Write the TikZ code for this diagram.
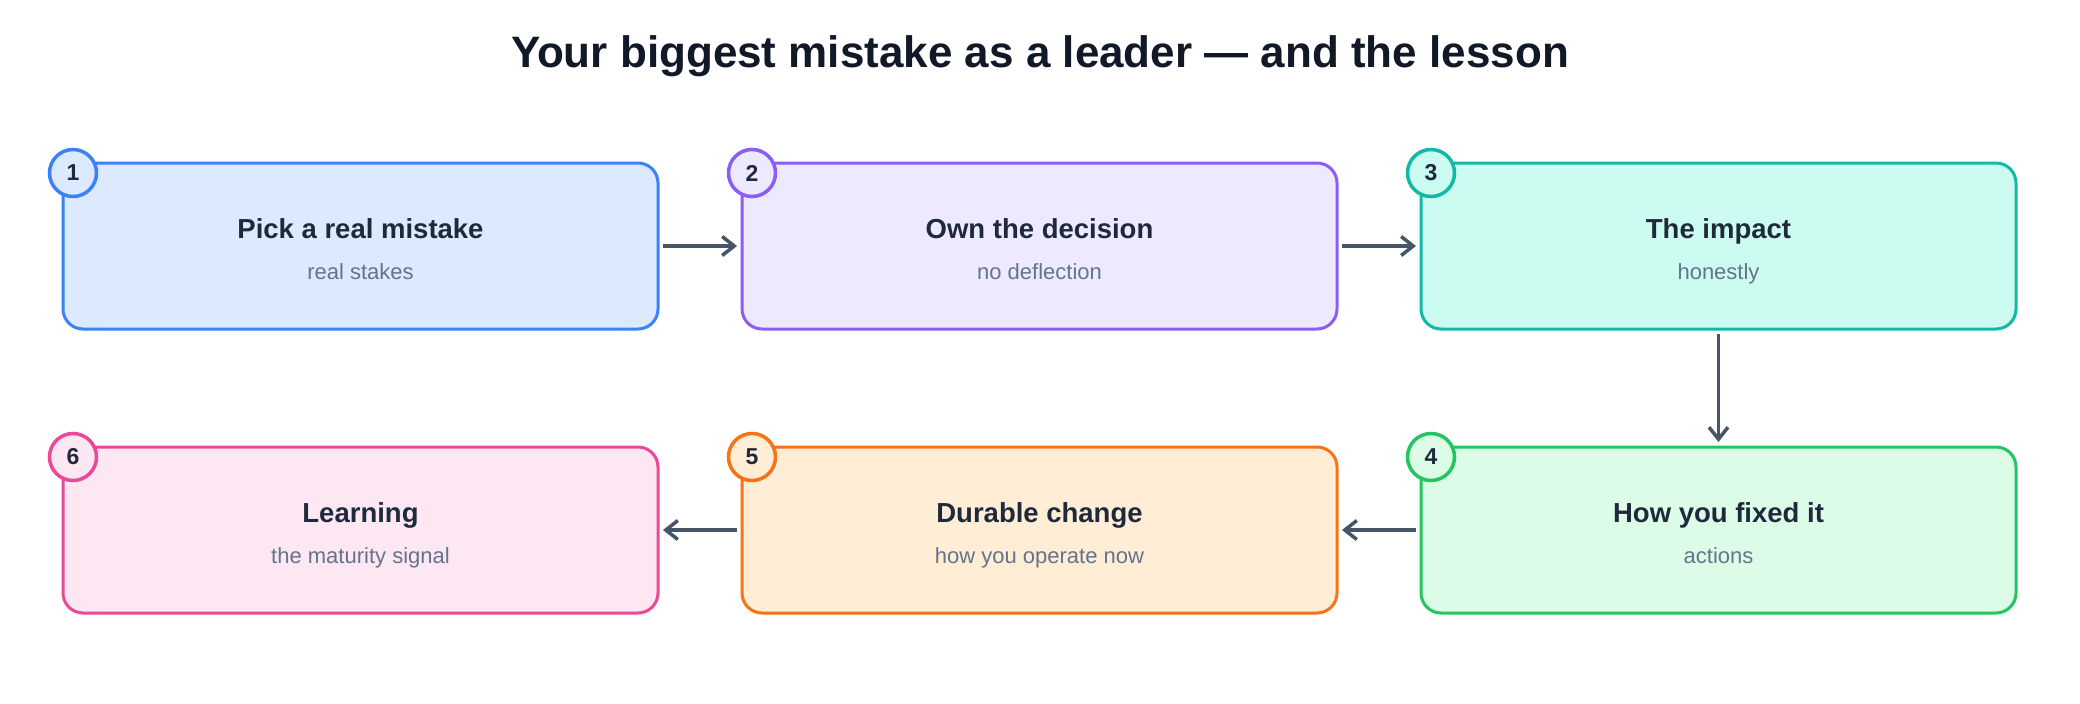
\documentclass[tikz,border=0pt]{standalone}
\usepackage{fontspec}
\setmainfont{Liberation Sans}
\usepackage{tikz}
\usetikzlibrary{positioning, arrows.meta}
\usepackage{xcolor}
\definecolor{ink}{HTML}{111827}
\definecolor{head}{HTML}{1E293B}
\definecolor{muted}{HTML}{64748B}
\definecolor{arrowc}{HTML}{475569}
\definecolor{blueline}{HTML}{3B82F6}   \definecolor{bluefill}{HTML}{DBEAFE}
\definecolor{purpleline}{HTML}{8B5CF6} \definecolor{purplefill}{HTML}{EDE9FE}
\definecolor{tealline}{HTML}{14B8A6}   \definecolor{tealfill}{HTML}{CCFBF1}
\definecolor{greenline}{HTML}{22C55E}  \definecolor{greenfill}{HTML}{DCFCE7}
\definecolor{orangeline}{HTML}{F97316} \definecolor{orangefill}{HTML}{FFEDD5}
\definecolor{pinkline}{HTML}{EC4899}   \definecolor{pinkfill}{HTML}{FCE7F3}
\newcommand{\steptitle}[1]{\rule{0pt}{31pt}{\fontsize{27.5}{41}\selectfont\bfseries\color{head}#1}}
\newcommand{\stepsub}[1]{#1\rule[-6pt]{0pt}{6pt}}
\tikzset{
  stepbox/.style={rectangle, rounded corners=20pt, line width=3pt, outer sep=0pt,
                  minimum width=595pt, minimum height=166pt, align=center,
                  text=muted, font=\fontsize{22}{41}\selectfont},
  numdot/.style={circle, line width=3.5pt, minimum size=47pt, inner sep=0pt,
                 text=head, font=\fontsize{23}{26}\selectfont\bfseries},
  flow/.style={-{Straight Barb[length=12pt, width=19pt]}, line width=3.5pt, color=arrowc,
               shorten <=5pt, shorten >=5pt},
}

\begin{document}
\begin{tikzpicture}[x=1pt, y=-1pt, node distance=84pt]
  \fill[white] (0,0) rectangle (2080,704);
  \useasboundingbox (0,0) rectangle (2080,704);

  \node[font=\fontsize{44}{52}\selectfont\bfseries, text=ink] (title) at (1040,56)
    {Your biggest mistake as a leader — and the lesson};

  % top row
  \node[stepbox, draw=blueline, fill=bluefill] (s1) at (360.5,246)
    {\steptitle{Pick a real mistake}\\\stepsub{real stakes}};
  \node[stepbox, draw=purpleline, fill=purplefill, right=of s1] (s2)
    {\steptitle{Own the decision}\\\stepsub{no deflection}};
  \node[stepbox, draw=tealline, fill=tealfill, right=of s2] (s3)
    {\steptitle{The impact}\\\stepsub{honestly}};

  % bottom row, right to left
  \node[stepbox, draw=greenline, fill=greenfill, below=118pt of s3] (s4)
    {\steptitle{How you fixed it}\\\stepsub{actions}};
  \node[stepbox, draw=orangeline, fill=orangefill, left=of s4] (s5)
    {\steptitle{Durable change}\\\stepsub{how you operate now}};
  \node[stepbox, draw=pinkline, fill=pinkfill, left=of s5] (s6)
    {\steptitle{Learning}\\\stepsub{the maturity signal}};

  \node[numdot, draw=blueline, fill=bluefill] (n1) at ([shift={(10,10)}]s1.north west) {1};
  \node[numdot, draw=purpleline, fill=purplefill] (n2) at ([shift={(10,10)}]s2.north west) {2};
  \node[numdot, draw=tealline, fill=tealfill] (n3) at ([shift={(10,10)}]s3.north west) {3};
  \node[numdot, draw=greenline, fill=greenfill] (n4) at ([shift={(10,10)}]s4.north west) {4};
  \node[numdot, draw=orangeline, fill=orangefill] (n5) at ([shift={(10,10)}]s5.north west) {5};
  \node[numdot, draw=pinkline, fill=pinkfill] (n6) at ([shift={(10,10)}]s6.north west) {6};

  \draw[flow] (s1) -- (s2);
  \draw[flow] (s2) -- (s3);
  \draw[flow] (s3) -- (s4);
  \draw[flow] (s4) -- (s5);
  \draw[flow] (s5) -- (s6);
\end{tikzpicture}
\end{document}
